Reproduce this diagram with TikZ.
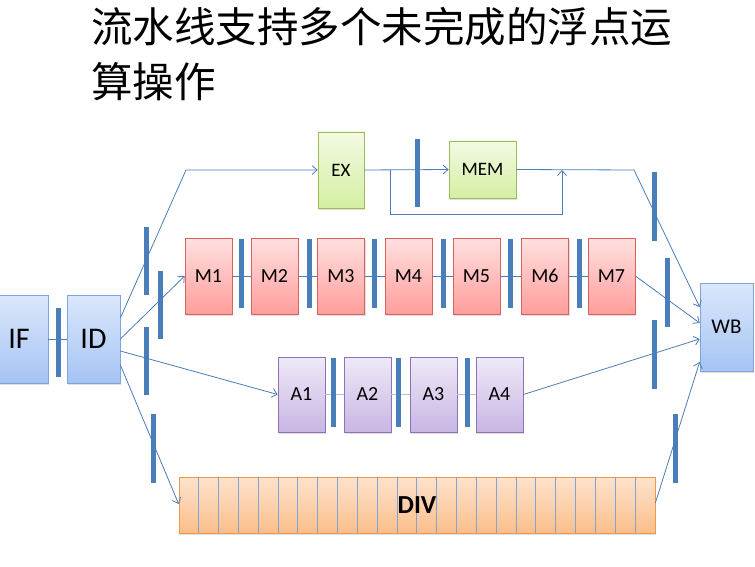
\documentclass[tikz,border=0pt]{standalone}
\usepackage{fontspec}
\setmainfont{Carlito}
\newfontfamily\cjk{Noto Sans CJK SC}
\usetikzlibrary{arrows.meta,shadows,calc}
\definecolor{conn}{HTML}{4A7EBB}
\definecolor{barc}{HTML}{4A7EBB}
\definecolor{chainc}{HTML}{A9C4E6}
\definecolor{HTML7FA4D8}{HTML}{7FA4D8}
\definecolor{HTMLDBE7FB}{HTML}{DBE7FB}
\definecolor{HTMLA5C4F4}{HTML}{A5C4F4}
\definecolor{HTML9BBB59}{HTML}{9BBB59}
\definecolor{HTMLF3FAE4}{HTML}{F3FAE4}
\definecolor{HTMLD4EFA2}{HTML}{D4EFA2}
\definecolor{HTMLD9605C}{HTML}{D9605C}
\definecolor{HTMLFFE0E0}{HTML}{FFE0E0}
\definecolor{HTMLFF9E9C}{HTML}{FF9E9C}
\definecolor{HTML8E72B3}{HTML}{8E72B3}
\definecolor{HTMLEEE9F7}{HTML}{EEE9F7}
\definecolor{HTMLC9B6E4}{HTML}{C9B6E4}
\definecolor{HTMLF79646}{HTML}{F79646}
\definecolor{HTMLFDE3CD}{HTML}{FDE3CD}
\definecolor{HTMLFBBE8A}{HTML}{FBBE8A}
\tikzset{
  boxbase/.style={draw, line width=0.7pt, inner sep=0pt, align=center,
    drop shadow={opacity=0.25, shadow xshift=1pt, shadow yshift=-1.5pt}},
  bluebox/.style={boxbase, draw=HTML7FA4D8, top color=HTMLDBE7FB, bottom color=HTMLA5C4F4},
  greenbox/.style={boxbase, draw=HTML9BBB59, top color=HTMLF3FAE4, bottom color=HTMLD4EFA2, font=\fontsize{19}{19}\selectfont},
  redbox/.style={boxbase, draw=HTMLD9605C, top color=HTMLFFE0E0, bottom color=HTMLFF9E9C, minimum width=47pt, minimum height=76pt, font=\fontsize{20}{20}\selectfont},
  purplebox/.style={boxbase, draw=HTML8E72B3, top color=HTMLEEE9F7, bottom color=HTMLC9B6E4, minimum width=47pt, minimum height=75pt, font=\fontsize{20}{20}\selectfont},
  orangebox/.style={boxbase, draw=HTMLF79646, top color=HTMLFDE3CD, bottom color=HTMLFBBE8A},
  barnode/.style={fill=barc, draw=none, inner sep=0pt, minimum width=5pt},
  link/.style={draw=conn, line width=0.8pt},
  arrowlink/.style={link, -{Straight Barb[length=5pt,width=9pt,line width=0.8pt]}},
  chain/.style={draw=chainc, line width=1.8pt},
  titlefont/.style={font=\cjk\fontsize{41.5}{45}\selectfont},
}
\begin{document}
\begin{tikzpicture}[x=1pt,y=-1pt]
\useasboundingbox[fill=white] (0,0) rectangle (755,567);

% title
\node[anchor=west, inner sep=0pt, titlefont] (title1) at (91,27) {流水线支持多个未完成的浮点运};
\node[anchor=west, inner sep=0pt, titlefont] (title2) at (91,82) {算操作};

% blue boxes
\node[bluebox, minimum width=58pt, minimum height=88pt, font=\fontsize{30}{30}\selectfont] (IF) at (19,339) {IF};
\node[bluebox, minimum width=53pt, minimum height=88pt, font=\fontsize{30}{30}\selectfont] (ID) at (93.5,339) {ID};
\node[bluebox, minimum width=53pt, minimum height=88pt, font=\fontsize{21}{21}\selectfont] (WB) at (726.5,327) {WB};

% EX / MEM
\node[greenbox, minimum width=46pt, minimum height=76pt] (EX) at (341,170) {EX};
\node[greenbox, minimum width=67pt, minimum height=57pt] (MEM) at (482.5,169.5) {MEM};

% M boxes
\node[redbox] (M1) at (208.5,276) {M1};
\node[redbox] (M2) at (274.5,276) {M2};
\node[redbox] (M3) at (341,276) {M3};
\node[redbox] (M4) at (408.5,276) {M4};
\node[redbox] (M5) at (476.5,276) {M5};
\node[redbox] (M6) at (545,276) {M6};
\node[redbox] (M7) at (611.5,276) {M7};

% A boxes
\node[purplebox] (A1) at (301.5,394.5) {A1};
\node[purplebox] (A2) at (367.5,394.5) {A2};
\node[purplebox] (A3) at (433.5,394.5) {A3};
\node[purplebox] (A4) at (499.5,394.5) {A4};

% DIV
\node[orangebox, minimum width=476pt, minimum height=56pt] (DIV) at (417,505) {};
\foreach \i in {1,...,23} {
  \draw[draw=HTML7FA4D8, line width=0.6pt] ($(DIV.north west)+(\i*19.833,0)$) -- ($(DIV.south west)+(\i*19.833,0)$);
}
\node[font=\bfseries\fontsize{26}{26}\selectfont, inner sep=0pt] (DIVlabel) at (DIV.center) {DIV};

% chain connectors
\draw[link] (IF.east) -- (ID.west);
\foreach \a/\b in {M1/M2,M2/M3,M3/M4,M4/M5,M5/M6,M6/M7} {
  \draw[link] (\a.east) -- (\b.west);
}
\foreach \a/\b in {A1/A2,A2/A3,A3/A4} {
  \draw[chain] (\a.east) -- (\b.west);
}

% branch connectors
\coordinate (exbend) at (186,170);
\draw[arrowlink] ([yshift=21pt]ID.east) -- (exbend) -- (EX.west);
\draw[arrowlink] (ID.east) -- (M1.west);
\draw[arrowlink] ([yshift=-12pt]ID.east) -- (A1.west);
\draw[arrowlink] ([yshift=-26pt]ID.east) -- ([yshift=1pt]DIV.west);

\draw[arrowlink] (EX.east) -- (MEM.west);
\coordinate (byA) at (390,170);
\coordinate (byB) at (390,214);
\coordinate (byC) at (562,214);
\coordinate (byD) at (562,170);
\draw[arrowlink] (byA) -- (byB) -- (byC) -- (byD);

\coordinate (membend) at (634,170);
\draw[arrowlink] (MEM.east) -- (membend) -- ([yshift=20pt]WB.west);
\draw[arrowlink] (M7.east) -- ([yshift=4pt]WB.west);
\draw[arrowlink] (A4.east) -- ([yshift=-12pt]WB.west);
\draw[arrowlink] ([yshift=2pt]DIV.east) -- ([yshift=-35pt]WB.west);

% pipeline registers (bars)
\node[barnode, minimum height=69pt] (r0) at (58,342.5) {};
\node[barnode, minimum height=68pt] (r1) at (146,261) {};
\node[barnode, minimum height=68pt] (r2) at (160,305) {};
\node[barnode, minimum height=68pt] (r3) at (146,361) {};
\node[barnode, minimum height=69pt] (r4) at (153,448.5) {};
\node[barnode, minimum height=68pt] (rx) at (417,173) {};
\foreach \x [count=\k] in {241,309,374,443,510,579} {
  \node[barnode, minimum height=69pt] (rm\k) at (\x,273.5) {};
}
\foreach \x [count=\k] in {333,398,467} {
  \node[barnode, minimum height=69pt] (ra\k) at (\x,392.5) {};
}
\node[barnode, minimum height=69pt] (w1) at (654,206.5) {};
\node[barnode, minimum height=69pt] (w2) at (667,292.5) {};
\node[barnode, minimum height=69pt] (w3) at (654,354.5) {};
\node[barnode, minimum height=69pt] (w4) at (675,448.5) {};
\end{tikzpicture}
\end{document}
